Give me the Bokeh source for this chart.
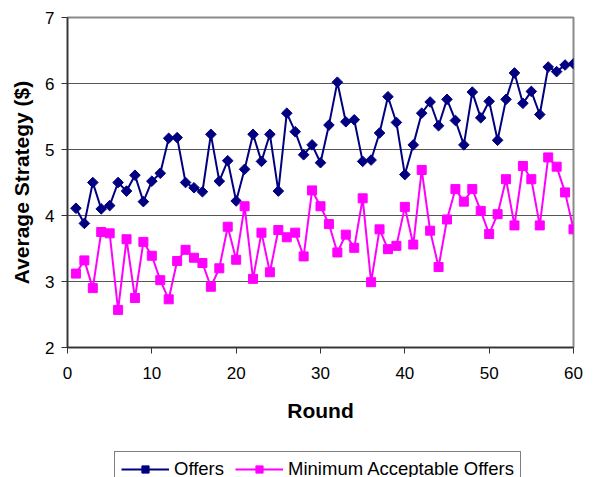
import math
from bokeh.plotting import figure
from bokeh.layouts import column
from bokeh.models import Range1d, FixedTicker, Legend, LegendItem
from bokeh.embed import file_html
from bokeh.resources import INLINE

rounds = list(range(1, 61))
offers = [4.11, 3.88, 4.50, 4.10, 4.15, 4.50, 4.37, 4.61, 4.21, 4.52,
          4.64, 5.17, 5.18, 4.50, 4.42, 4.36, 5.23, 4.52, 4.83, 4.22,
          4.70, 5.23, 4.82, 5.23, 4.37, 5.55, 5.27, 4.92, 5.07, 4.80,
          5.37, 6.02, 5.42, 5.45, 4.82, 4.84, 5.25, 5.80, 5.41, 4.62,
          5.07, 5.55, 5.72, 5.36, 5.76, 5.44, 5.07, 5.87, 5.48, 5.73,
          5.14, 5.76, 6.16, 5.70, 5.88, 5.53, 6.25, 6.18, 6.28, 6.30]
min_acceptable = [3.12, 3.32, 2.90, 3.75, 3.73, 2.57, 3.64, 2.75, 3.60, 3.39,
                  3.02, 2.73, 3.31, 3.48, 3.36, 3.28, 2.92, 3.20, 3.83, 3.33,
                  4.14, 3.04, 3.74, 3.14, 3.78, 3.67, 3.74, 3.38, 4.38, 4.14,
                  3.87, 3.44, 3.71, 3.51, 4.26, 2.99, 3.79, 3.49, 3.54, 4.13,
                  3.56, 4.69, 3.77, 3.22, 3.94, 4.40, 4.21, 4.40, 4.07, 3.72,
                  4.02, 4.55, 3.85, 4.75, 4.55, 3.85, 4.88, 4.74, 4.35, 3.79]
x_ticks = [0, 10, 20, 30, 40, 50, 60]
y_ticks = [2, 3, 4, 5, 6, 7]
series_names = ["Offers", "Minimum Acceptable Offers"]

FONT = "Liberation Sans"
NAVY = "#000080"
MAGENTA = "#FF00FF"

p = figure(width=587, height=450, output_backend="svg", toolbar_location=None,
           x_range=Range1d(0, 60), y_range=Range1d(2, 7),
           min_border_left=67, min_border_right=14, min_border_top=17,
           min_border_bottom=103, background_fill_color="white",
           border_fill_color="white")

p.outline_line_color = "#8a8a8a"
p.outline_line_width = 2
p.xgrid.visible = False
p.ygrid.grid_line_color = "#555555"
p.ygrid.grid_line_width = 1

p.xaxis.ticker = FixedTicker(ticks=x_ticks)
p.yaxis.ticker = FixedTicker(ticks=y_ticks)
for ax in (p.xaxis, p.yaxis):
    ax.axis_line_color = "#333333"
    ax.axis_line_width = 1.5
    ax.major_tick_line_color = "#333333"
    ax.major_tick_line_width = 1
    ax.major_tick_in = 0
    ax.major_tick_out = 6
    ax.minor_tick_line_color = None
    ax.major_label_text_font = FONT
    ax.major_label_text_font_size = "17px"
    ax.major_label_text_color = "black"
    ax.axis_label_text_font = FONT
    ax.axis_label_text_font_size = "21px"
    ax.axis_label_text_font_style = "bold"
    ax.axis_label_text_color = "black"

p.xaxis.axis_label = "Round"
p.yaxis.axis_label = "Average Strategy ($)"
p.xaxis.major_label_standoff = 13
p.xaxis.axis_label_standoff = 17
p.yaxis.major_label_standoff = 7
p.yaxis.axis_label_standoff = 9

p.line(rounds, offers, line_color=NAVY, line_width=2)
p.scatter(rounds, offers, marker="square", angle=math.pi / 4, size=7.5,
          fill_color=NAVY, line_color=NAVY)
p.line(rounds, min_acceptable, line_color=MAGENTA, line_width=2)
p.scatter(rounds, min_acceptable, marker="square", size=9,
          fill_color=MAGENTA, line_color=MAGENTA)

# legend strip below the chart (series drawn off-range so only legend glyphs show)
lg = figure(width=587, height=27, output_backend="svg", toolbar_location=None,
            x_range=Range1d(100, 101), y_range=Range1d(100, 101),
            x_axis_location=None, y_axis_location=None, min_border=0,
            background_fill_color="white", border_fill_color="white")
lg.outline_line_color = None
lg.grid.visible = False
l1 = lg.line(rounds, offers, line_color=NAVY, line_width=2)
s1 = lg.scatter(rounds, offers, marker="square", angle=math.pi / 4, size=7.5,
                fill_color=NAVY, line_color=NAVY)
l2 = lg.line(rounds, min_acceptable, line_color=MAGENTA, line_width=2)
s2 = lg.scatter(rounds, min_acceptable, marker="square", size=9,
                fill_color=MAGENTA, line_color=MAGENTA)

legend = Legend(items=[LegendItem(label=series_names[0], renderers=[l1, s1]),
                       LegendItem(label=series_names[1], renderers=[l2, s2])],
                orientation="horizontal", location=(47, -9.5), margin=0,
                padding=6, spacing=11, glyph_width=48, glyph_height=18,
                label_height=18, label_standoff=5,
                border_line_color="black", border_line_width=1,
                background_fill_color="white", background_fill_alpha=1,
                label_text_font=FONT, label_text_font_size="18.5px",
                label_text_color="black")
lg.add_layout(legend)

layout = column(p, lg, spacing=0)
open("out.html", "w").write(file_html(layout, INLINE))
